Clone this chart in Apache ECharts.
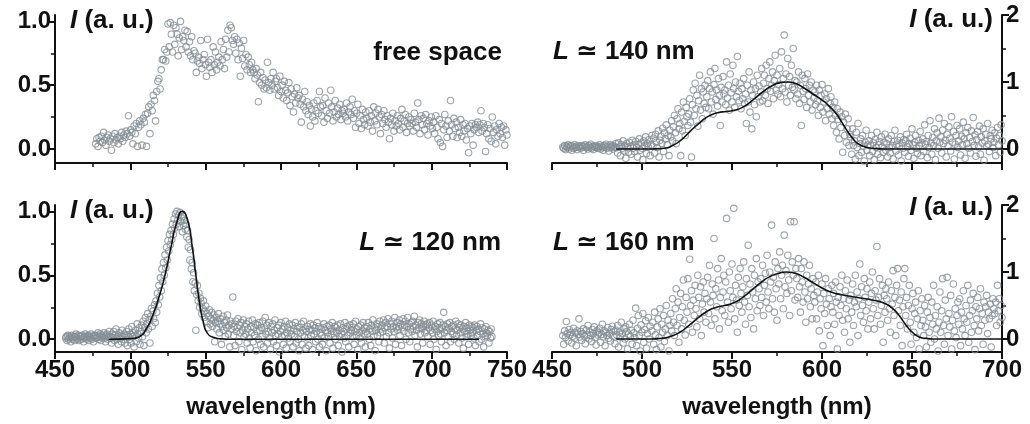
<!DOCTYPE html>
<html>
<head>
<meta charset="utf-8">
<title>spectra</title>
<script src="https://cdn.jsdelivr.net/npm/echarts@6/dist/echarts.min.js"></script>
<style>
  html, body { margin: 0; padding: 0; background: #fff; }
  #chart { width: 1030px; height: 424px; }
</style>
</head>
<body>
<div id="chart"></div>
<script>
// sample grids of the spectrometer (nm)
const freeStart = 477, freeStep = 0.75;
const l140Start = 456, l140Step = 0.5;
const l120Start = 457, l120Step = 0.5;
const l160Start = 456, l160Step = 0.5;

// free space intensity (a. u.)
const freeI = [
  0.04,0.08,0.02,0.09,0.06,0.1,0.05,0.13,0.07,0.03,0.09,0.11,0.06,0.08,-0.01,0.1,0.05,0.12,0.07,0.09,
  0.04,0.1,0.08,0.13,0.06,0.11,0.09,0.14,0.12,0.26,0.1,0.15,0.13,0.04,0.18,0.12,0.2,0.02,0.17,0.22,
  0.19,0.03,0.24,0.21,0.27,0.02,0.28,0.33,0.12,0.35,0.3,0.42,0.38,0.22,0.45,0.53,0.55,0.47,0.62,0.7,
  0.7,0.78,0.69,0.76,0.98,0.8,0.99,0.9,0.76,0.97,0.82,0.95,0.9,0.73,0.87,1.0,0.78,0.88,0.85,0.93,
  0.8,0.92,0.76,0.84,0.73,0.88,0.7,0.77,0.75,0.6,0.69,0.72,0.67,0.85,0.63,0.7,0.74,0.66,0.57,0.86,
  0.68,0.64,0.7,0.6,0.8,0.66,0.76,0.62,0.68,0.72,0.65,0.84,0.7,0.78,0.63,0.86,0.72,0.93,0.76,0.97,
  0.95,0.85,0.82,0.88,0.75,0.86,0.7,0.83,0.57,0.79,0.71,0.85,0.65,0.74,0.62,0.72,0.66,0.6,0.68,0.62,
  0.6,0.55,0.63,0.58,0.37,0.52,0.6,0.5,0.56,0.47,0.54,0.48,0.68,0.52,0.46,0.55,0.5,0.6,0.47,0.53,
  0.55,0.48,0.42,0.57,0.45,0.5,0.4,0.53,0.46,0.38,0.44,0.52,0.34,0.47,0.41,0.29,0.43,0.36,0.48,0.4,
  0.42,0.35,0.21,0.39,0.33,0.45,0.3,0.37,0.27,0.34,0.18,0.31,0.25,0.36,0.22,0.3,0.38,0.28,0.45,0.33,
  0.26,0.34,0.21,0.4,0.3,0.24,0.36,0.28,0.46,0.33,0.22,0.29,0.38,0.25,0.32,0.27,0.35,0.23,0.3,0.28,
  0.31,0.25,0.36,0.22,0.29,0.33,0.27,0.39,0.24,0.3,0.17,0.28,0.35,0.2,0.26,0.16,0.31,0.23,0.19,0.29,
  0.24,0.18,0.3,0.21,0.26,0.14,0.33,0.22,0.28,0.19,0.31,0.25,0.12,0.27,0.2,0.3,0.23,0.17,0.26,0.21,
  0.08,0.24,0.19,0.28,0.14,0.22,0.18,0.26,0.2,0.15,0.24,0.31,0.17,0.22,0.27,0.13,0.2,0.25,0.18,0.23,
  0.2,0.14,0.28,0.21,0.17,0.36,0.23,0.12,0.26,0.19,0.24,0.15,0.27,0.2,0.11,0.22,0.18,0.25,0.16,0.21,
  0.12,0.26,0.17,0.08,0.23,0.05,0.2,0.02,0.15,0.27,0.18,0.09,0.22,0.14,0.38,0.19,0.1,0.24,0.16,0.21,
  0.09,0.17,0.13,0.23,0.1,0.19,0.14,0.2,0.07,0.16,-0.03,0.18,0.12,0.2,0.03,0.15,0.19,0.17,0.21,0.13,
  0.19,0.3,0.14,0.2,0.17,-0.02,0.12,0.19,0.08,0.16,0.06,0.25,0.13,0.18,0.04,0.15,0.1,0.2,0.12,0.17,
  0.09,0.18,0.03,0.15,0.11
];

// L ~ 140 nm
const l140I = [
  0.03,0.01,0.05,-0.01,0.04,0.02,0.06,0,0.03,0.05,-0.02,0.04,0.01,0.06,0.02,0.03,-0.01,0.05,0.02,0.04,
  0.01,0.05,0.03,-0.02,0.04,0.06,0.02,0.03,0,0.05,0.02,0.07,0.01,0.04,-0.01,0.03,0.05,0.02,0.04,0.01,
  0.03,0.06,0,0.04,0.02,-0.02,0.05,0.03,0.07,0.01,0.04,-0.03,0.02,0.06,0.03,0.05,0,0.04,0.02,0.08,
  0.02,-0.06,0.09,0.03,-0.1,0.06,0.01,0.12,-0.03,0.05,-0.14,0.08,0.02,-0.05,0.1,0.04,-0.08,0.13,0.01,0.06,
  -0.04,0.11,0.03,-0.12,0.07,0.15,-0.02,0.09,0.01,-0.16,0.12,0.05,0.18,-0.07,0.08,0.03,0.14,-0.1,0.06,0.2,
  0.04,0.16,-0.06,0.22,0.1,0.02,0.27,-0.12,0.13,0.19,0.08,0.31,-0.04,0.24,0.15,0.36,0.06,0.2,-0.1,0.28,
  0.18,0.42,0.12,0.33,0.5,0.24,0.08,0.45,0.6,0.3,0.38,-0.1,0.55,0.27,0.7,0.41,0.2,0.62,0.48,0.35,
  0.52,0.75,0.4,-0.12,0.66,0.88,0.5,0.98,0.6,0.8,0.34,0.72,1.1,0.58,0.9,0.45,0.85,0.68,0.95,0.62,
  0.78,1.02,0.6,0.9,1.15,0.7,0.85,0.52,0.96,1.2,0.74,0.88,0.64,1.05,0.8,0.35,0.92,0.7,1.08,0.82,
  0.88,0.66,1.3,0.76,0.95,0.58,1.12,0.84,0.7,1.25,0.9,0.62,1.0,0.78,1.38,0.86,0.72,0.98,0.6,0.9,
  0.75,1.05,0.68,0.82,0.38,0.95,0.7,1.15,0.55,0.88,0.3,0.8,1.0,0.66,0.9,0.48,1.1,0.78,0.94,0.7,
  0.85,1.2,0.72,0.98,1.1,0.8,1.25,0.9,0.68,1.05,1.3,0.86,0.95,1.15,0.75,1.02,1.4,0.88,1.1,0.82,
  0.96,1.2,0.78,1.45,0.9,1.05,1.7,0.85,1.12,0.7,1.35,0.95,1.08,0.8,1.25,0.92,1.5,0.88,1.02,0.75,
  1.0,0.82,1.15,0.68,0.95,0.35,1.1,0.86,0.74,1.05,0.9,0.62,1.12,0.8,0.95,0.7,1.0,0.58,0.88,0.76,
  0.85,0.66,0.95,0.72,0.5,0.88,0.62,0.8,0.96,0.55,0.7,0.82,0.42,0.75,0.6,0.9,0.52,0.68,0.78,0.45,
  0.62,0.35,0.7,0.5,0.25,0.6,0.44,0.15,0.55,0.32,0.48,-0.05,0.4,0.2,0.52,0.1,0.3,0.45,0.05,0.22,
  0.18,-0.08,0.3,0.05,0.12,-0.15,0.25,0.02,0.38,-0.1,0.08,0.15,-0.05,0.2,0.04,-0.18,0.1,0.28,-0.02,0.06,
  0.12,-0.1,0.05,0.2,-0.04,0.09,-0.16,0.14,0.02,0.25,-0.08,0.06,0.11,-0.13,0.18,0.03,-0.05,0.1,0.22,-0.02,
  0.08,-0.12,0.15,0.02,-0.06,0.2,0.05,-0.15,0.11,0.28,-0.03,0.07,0.13,-0.09,0.04,0.18,-0.18,0.09,0.01,0.14,
  -0.05,0.12,0.22,0.03,-0.11,0.08,0.16,-0.02,0.3,0.06,-0.14,0.1,0.2,0.01,-0.07,0.13,0.05,0.26,-0.1,0.09,
  0.15,-0.04,0.36,0.07,0.11,-0.13,0.2,0.02,0.42,0.09,-0.08,0.17,0.05,0.3,-0.16,0.12,0.24,0.01,0.46,0.1,
  0.18,-0.06,0.28,0.08,0.38,0.13,-0.12,0.22,0.04,0.33,0.16,-0.03,0.48,0.1,0.26,-0.15,0.07,0.2,0.35,0.02,
  0.12,0.3,-0.09,0.19,0.06,0.4,0.15,-0.14,0.24,0.08,0.32,0.01,0.17,-0.06,0.27,0.11,0.47,0.05,0.21,-0.11,
  0.14,0.26,0.03,0.34,-0.08,0.18,0.09,0.3,-0.17,0.12,0.22,0.04,0.38,0.07,-0.04,0.2,0.15,0.28,0.02,0.1,
  0.24,-0.1,0.16,0.32,0.06,0.2,-0.05,0.36,0.12
];

// L ~ 120 nm
const l120I = [
  0.01,0.02,-0.01,0.03,0,0.02,0.01,-0.02,0.03,0.01,0,0.02,-0.01,0.02,0.04,0.01,0,0.03,-0.01,0.02,
  0.02,0,0.03,0.01,-0.02,0.02,0.04,0.01,0,0.02,0.03,-0.01,0.02,0.01,0.04,0,0.02,-0.02,0.03,0.01,
  0.03,0.01,0.02,0.05,0,0.02,0.04,-0.01,0.03,0.01,0.02,0.05,0.01,-0.02,0.03,0.04,0,0.02,0.06,0.01,
  0.02,-0.03,0.04,0.01,0.06,-0.01,0.03,0.08,0,0.02,-0.04,0.05,0.01,0.03,-0.02,0.07,0.02,0,0.04,-0.03,
  0.03,0.06,-0.05,0.02,0.08,0,0.04,-0.03,0.1,0.02,0.05,-0.06,0.03,0.07,-0.02,0.12,0.04,0.01,0.09,-0.04,
  0.06,0.11,0.02,0.14,-0.05,0.09,0.17,0.05,0.12,0.2,0.08,0.15,-0.03,0.18,0.24,0.1,0.22,0.16,0.27,0.13,
  0.3,0.21,0.36,0.27,0.42,0.33,0.48,0.38,0.55,0.45,0.6,0.5,0.66,0.56,0.72,0.62,0.77,0.69,0.82,0.74,
  0.85,0.78,0.9,0.82,0.94,0.87,0.98,0.9,1.0,0.93,0.97,0.88,0.99,0.92,0.95,0.84,0.96,0.89,0.93,0.86,
  0.9,0.8,0.85,0.72,0.78,0.62,0.7,0.55,0.6,0.45,0.52,0.38,0.44,0.07,0.35,0.42,0.3,0.36,0.25,0.32,
  0.28,0.2,0.24,0.3,0.17,0.22,0.26,0.14,0.2,0.09,0.18,0.23,0.12,0.16,0.21,0.1,0.15,0.19,-0.02,0.13,
  0.17,0.08,0.14,0.2,0.05,0.12,0.16,-0.04,0.1,0.18,0.07,0.13,0.02,0.15,0.09,0.19,0.04,0.11,-0.06,0.14,
  0.08,0.12,0.33,0.03,0.1,-0.05,0.14,0.06,0.09,0.16,-0.02,0.11,0.05,0.13,-0.08,0.07,0.15,0.02,0.1,0.04,
  0.12,-0.03,0.08,0.14,0.01,-0.07,0.1,0.05,0.15,-0.02,0.09,0.03,0.12,-0.09,0.06,0.11,0,0.13,0.07,-0.04,
  0.09,0.02,0.14,-0.06,0.08,0.17,0.04,0.11,-0.03,0.06,0.13,0.01,-0.08,0.1,0.05,0.12,-0.02,0.07,0.15,0.03,
  -0.05,0.09,0.04,0.11,-0.1,0.06,0.13,0.02,0.08,-0.04,0.1,0.03,0.14,-0.07,0.05,0.09,0.01,0.12,-0.02,0.07,
  0.04,0.11,-0.06,0.08,0.02,0.13,-0.03,0.06,0.1,0,-0.09,0.09,0.05,0.12,-0.04,0.07,0.14,0.02,0.08,-0.07,
  0.06,0.1,0.01,-0.05,0.08,0.12,0.03,0.07,-0.08,0.11,0.04,0.09,-0.02,0.06,0.13,0,0.1,-0.06,0.05,0.08,
  0.03,-0.04,0.09,0.12,0.01,0.07,-0.09,0.1,0.05,0.02,0.11,-0.03,0.08,0.04,0.13,-0.07,0.06,0.1,0,0.09,
  0.05,0.11,-0.05,0.07,0.02,0.12,0.04,-0.1,0.09,0.06,0.01,0.13,-0.02,0.08,0.1,0.03,-0.06,0.11,0.05,0.07,
  0.09,0.02,0.12,-0.04,0.06,0.14,0.03,0.08,-0.08,0.1,0.05,0.01,0.11,-0.03,0.07,0.13,0.04,0.09,-0.06,0.06,
  0.1,0.04,0.13,0,0.08,-0.05,0.11,0.06,0.15,0.02,0.09,-0.09,0.07,0.12,0.03,0.1,-0.02,0.14,0.05,0.08,
  0.11,0.06,0.15,-0.03,0.09,0.13,0.02,0.1,0.16,0.05,-0.07,0.12,0.08,0.14,0.01,0.1,0.06,0.17,-0.04,0.09,
  0.13,0.07,0.1,0.15,0.03,0.12,-0.05,0.09,0.16,0.06,0.11,0.14,0,0.1,0.17,0.05,0.12,-0.02,0.08,0.13,
  0.06,0.14,0.1,0.18,0.03,0.11,0.07,-0.06,0.13,0.09,0.15,0.04,0.12,0.08,-0.03,0.1,0.14,0.05,0.11,0.07,
  0.12,0.02,0.09,0.13,-0.04,0.07,0.11,0.05,0.14,0,0.08,0.1,-0.08,0.06,0.12,0.03,0.09,0.13,0.04,-0.02,
  0.08,0.11,0.21,0.05,0.1,-0.05,0.07,0.12,0.02,0.09,0.13,-0.02,0.06,0.1,0.04,0.11,0,0.08,0.14,0.03,
  0.07,0.12,-0.03,0.09,0.05,0.11,0.01,0.08,-0.07,0.1,0.06,0.13,0.02,0.09,0.04,-0.04,0.11,0.07,0.03,0.1,
  0.05,0.09,0.01,0.11,-0.05,0.07,0.1,0.03,0.08,-0.02,0.06,0.12,0,0.09,0.04,-0.06,0.08,0.02,0.1,0.05,
  0.03,0.07,-0.03,0.06,0.01,0.08,0.02
];

// L ~ 160 nm
const l160I = [
  0.05,-0.08,0.12,0.02,0.26,0.08,-0.03,0.14,0.06,0.1,-0.06,0.04,0.16,0.01,0.09,-0.1,0.12,0.07,0.3,0.03,
  0.11,-0.02,0.08,0.15,0.04,-0.07,0.13,0.06,0.2,0,0.1,0.05,-0.04,0.14,0.08,0.18,0.02,-0.09,0.12,0.06,
  0.09,0.16,-0.05,0.07,0.22,0.03,0.12,-0.1,0.1,0.05,0.17,0.01,0.08,-0.03,0.14,0.19,0.04,0.11,-0.07,0.13,
  0.06,0.2,-0.12,0.1,0.03,0.25,0.08,-0.06,0.15,0,0.18,0.11,-0.15,0.07,0.22,0.04,0.13,-0.08,0.28,0.09,
  0.02,0.46,-0.1,0.16,0.35,0.05,-0.18,0.21,0.1,0.38,-0.05,0.14,0.27,-0.14,0.08,0.32,0,0.19,-0.2,0.12,
  0.25,-0.08,0.4,0.06,-0.16,0.18,0.3,0.02,0.45,-0.12,0.22,0.1,0.35,-0.04,0.15,0.5,0.05,0.28,-0.18,0.2,
  0.38,0.12,0.6,0.25,0.05,0.45,0.75,0.2,0.55,-0.05,0.32,0.68,0.15,0.48,0.88,0.28,0.06,0.62,0.4,0.9,
  0.22,1.19,0.5,0.72,0.1,0.58,0.35,0.8,0.45,0.18,0.95,0.62,0.3,0.78,0.05,0.52,0.85,0.4,0.68,0.25,
  0.6,0.92,0.38,1.1,0.55,0.2,0.82,0.65,1.5,0.3,0.75,0.48,1.05,0.88,0.15,0.62,1.2,0.42,0.7,0.95,
  0.35,0.85,1.8,0.55,0.25,1.0,0.72,0.45,1.12,0.62,1.95,0.3,0.8,0.58,0.1,0.92,0.5,1.05,0.68,0.4,
  0.78,1.15,0.55,0.22,0.9,0.65,1.4,0.48,0.82,0.32,1.05,0.7,0.15,0.95,0.6,1.2,0.42,0.85,0.75,0.5,
  0.9,0.62,1.1,0.35,0.8,0.98,0.55,1.25,0.7,0.45,1.0,0.85,1.7,0.6,0.92,0.4,1.15,0.75,0.28,1.05,
  0.82,1.3,0.6,0.95,1.1,0.45,1.55,0.78,1.02,0.68,1.25,0.88,0.35,1.75,0.72,1.15,0.95,1.75,0.58,1.05,
  0.9,0.62,1.2,0.78,0.4,1.05,0.85,0.55,1.15,0.7,0.25,0.95,0.6,0.82,1.1,0.48,0.75,0.3,0.9,0.65,
  0.55,0.85,0.3,0.7,0.95,0.12,0.6,0.45,0.82,-0.1,0.68,0.38,0.9,0.52,0.2,0.75,0.6,0.05,0.48,0.8,
  0.4,0.68,0.22,0.85,0.55,-0.15,0.62,0.35,0.78,0.5,0.95,0.28,0.6,0.1,0.72,0.45,0.88,0.3,0.58,-0.05,
  0.65,0.4,0.82,0.2,0.55,0.95,0.48,0.7,0.05,0.6,1.12,0.35,0.78,0.5,0.25,0.9,0.62,0.42,0.75,0.15,
  0.55,0.85,0.3,0.68,1.0,0.45,0.15,0.72,0.58,1.38,0.35,0.62,0.9,0.22,0.5,0.8,-0.05,0.65,0.4,0.75,
  0.6,0.28,0.85,0.45,0.1,0.72,0.52,1.02,0.35,0.62,0.05,0.8,1.05,0.42,0.58,0.2,0.7,-0.1,0.48,0.9,
  1.05,0.35,0.62,0.15,0.5,0.8,0.25,-0.08,0.45,0.68,0.1,0.38,0.55,0.02,0.3,0.72,-0.15,0.42,0.2,0.6,
  0.28,0.05,0.5,0.18,-0.12,0.4,0.62,0.1,0.32,-0.05,0.55,0.22,0.8,0,0.35,0.15,0.48,-0.18,0.25,0.7,
  0.1,0.42,0.9,0.2,-0.08,0.58,0.3,0.92,0.05,0.38,0.18,0.65,-0.15,0.28,0.82,0.12,0.45,0.02,0.35,0.55,
  0.22,0.6,-0.1,0.4,0.15,0.72,0.3,0.05,0.5,0.25,0.8,-0.05,0.35,0.58,0.1,0.42,0.68,0.2,-0.16,0.48,
  0.3,0.62,0.12,0.45,0.75,0.2,0.38,-0.08,0.55,0.28,0.48,0.65,0.08,0.4,0.3,0.52,-0.12,0.35,0.6,0.45,
  0.38,0.55,0.2,0.8,0.42,0.6,0.25,0.5,0.32
];

// fitted curves, [wavelength, I]
const fit120 = [[486,0],[500,0.005],[506,0.02],[511,0.09],[515,0.19],[519,0.33],[523,0.5],[527,0.72],[531,0.92],[534.5,1.0],[538,0.93],[541,0.73],[543.5,0.5],[546,0.28],[548.5,0.13],[551,0.05],[555,0.015],[560,0.003],[566,0],[731,0]];
const fit140 = [[486,0],[505,0],[512,0.01],[517,0.05],[522,0.14],[527,0.27],[532,0.39],[537,0.49],[542,0.54],[547,0.56],[552,0.58],[557,0.64],[562,0.74],[567,0.85],[572,0.94],[577,0.99],[581,1.0],[585,0.98],[590,0.91],[595,0.82],[600,0.73],[604,0.64],[608,0.52],[611,0.4],[614,0.27],[617,0.16],[620,0.08],[624,0.03],[628,0.01],[634,0],[700,0]];
const fit160 = [[486,0],[505,0],[511,0.01],[516,0.04],[521,0.1],[526,0.2],[531,0.31],[536,0.41],[541,0.47],[546,0.5],[551,0.54],[556,0.62],[561,0.73],[566,0.84],[571,0.93],[576,0.98],[580,1.0],[585,0.98],[590,0.92],[595,0.84],[600,0.76],[605,0.7],[611,0.66],[617,0.63],[624,0.6],[630,0.57],[635,0.53],[639,0.46],[642,0.38],[645,0.27],[648,0.16],[651,0.08],[654,0.03],[658,0.008],[664,0],[700,0]];

// ticks
const yMajorLeft = [0, 0.5, 1.0];
const yMinorLeft = [0.25, 0.75];
const yMajorRight = [0, 1, 2];
const yMinorRight = [0.5, 1.5];

const FONT = '"Liberation Sans", Arial, Helvetica, "DejaVu Sans", sans-serif';
const INK = '#111';
const DOT = '#838d95';

function spectrum(start, step, vals) {
  return vals.map((v, i) => [+(start + i * step).toFixed(2), v]);
}

const chart = echarts.init(document.getElementById('chart'));

const grids = [
  { left: 55, top: 15, width: 452, height: 148 },
  { left: 552, top: 15, width: 450, height: 148 },
  { left: 55, top: 205, width: 452, height: 147 },
  { left: 552, top: 205, width: 450, height: 147 }
];

function xAxis(i, max, labels) {
  return {
    type: 'value', gridIndex: i, min: 450, max: max, interval: 50,
    axisLine: { show: true, onZero: false, lineStyle: { color: INK, width: 2 } },
    axisTick: { show: true, length: 7, lineStyle: { color: INK, width: 2 } },
    minorTick: { show: true, splitNumber: 2, length: 4, lineStyle: { color: INK, width: 1.5 } },
    axisLabel: { show: labels, color: INK, fontSize: 24, fontWeight: 'bold', fontFamily: FONT, margin: 6 },
    splitLine: { show: false },
    name: labels ? 'wavelength (nm)' : '',
    nameLocation: 'middle', nameGap: 43,
    nameTextStyle: { color: INK, fontSize: 24, fontWeight: 'bold', fontFamily: FONT }
  };
}

function yAxes(i, min, max, major, minor, right) {
  const pos = right ? 'right' : 'left';
  return [{
    type: 'value', gridIndex: i, min: min, max: max, position: pos,
    axisLine: { show: true, onZero: false, lineStyle: { color: INK, width: 2 } },
    axisTick: { show: true, customValues: major, length: 7, lineStyle: { color: INK, width: 2 } },
    axisLabel: {
      customValues: major, color: INK, fontSize: 24, fontWeight: 'bold', fontFamily: FONT, margin: 4,
      formatter: v => right ? String(Math.round(v)) : v.toFixed(1)
    },
    splitLine: { show: false }
  }, {
    type: 'value', gridIndex: i, min: min, max: max, position: pos,
    axisLine: { show: false },
    axisTick: { show: true, customValues: minor, length: 4, lineStyle: { color: INK, width: 1.5 } },
    axisLabel: { show: false },
    splitLine: { show: false }
  }];
}

function dots(i, data) {
  return {
    type: 'scatter', xAxisIndex: i, yAxisIndex: 2 * i, data: data,
    symbol: 'circle', symbolSize: 6.5, clip: true, progressive: 0, large: false,
    itemStyle: { color: 'rgba(255,255,255,0)', borderColor: DOT, borderWidth: 1.1 },
    emphasis: { disabled: true }, z: 2
  };
}

function fit(i, data) {
  return {
    type: 'line', xAxisIndex: i, yAxisIndex: 2 * i, data: data,
    showSymbol: false, smooth: 0.6, clip: true,
    lineStyle: { color: INK, width: 1.6, join: 'round', cap: 'round' }, z: 3
  };
}

function label(x, y, text, align) {
  return {
    type: 'text', x: x, y: y, z: 10,
    style: {
      text: text, fill: INK, fontSize: 26, fontWeight: 'bold', fontFamily: FONT,
      align: align, verticalAlign: 'middle',
      rich: { i: { fontStyle: 'italic', fontWeight: 'bold', fontSize: 26, fontFamily: FONT, fill: INK } }
    }
  };
}

chart.setOption({
  animation: false,
  backgroundColor: '#fff',
  grid: grids,
  xAxis: [xAxis(0, 750, false), xAxis(1, 700, false), xAxis(2, 750, true), xAxis(3, 700, true)],
  yAxis: [].concat(
    yAxes(0, -0.11, 1.05, yMajorLeft, yMinorLeft, false),
    yAxes(1, -0.21, 2, yMajorRight, yMinorRight, true),
    yAxes(2, -0.1, 1.05, yMajorLeft, yMinorLeft, false),
    yAxes(3, -0.195, 2, yMajorRight, yMinorRight, true)
  ),
  series: [
    dots(0, spectrum(freeStart, freeStep, freeI)),
    dots(1, spectrum(l140Start, l140Step, l140I)),
    fit(1, fit140),
    dots(2, spectrum(l120Start, l120Step, l120I)),
    fit(2, fit120),
    dots(3, spectrum(l160Start, l160Step, l160I)),
    fit(3, fit160)
  ],
  graphic: [
    label(70, 21, '{i|I} (a. u.)', 'left'),
    label(993, 20, '{i|I} (a. u.)', 'right'),
    label(70, 211, '{i|I} (a. u.)', 'left'),
    label(993, 208, '{i|I} (a. u.)', 'right'),
    label(502, 53, 'free space', 'right'),
    label(553, 52, '{i|L} ≃ 140 nm', 'left'),
    label(501, 243, '{i|L} ≃ 120 nm', 'right'),
    label(553, 243, '{i|L} ≃ 160 nm', 'left')
  ]
});
</script>
</body>
</html>
